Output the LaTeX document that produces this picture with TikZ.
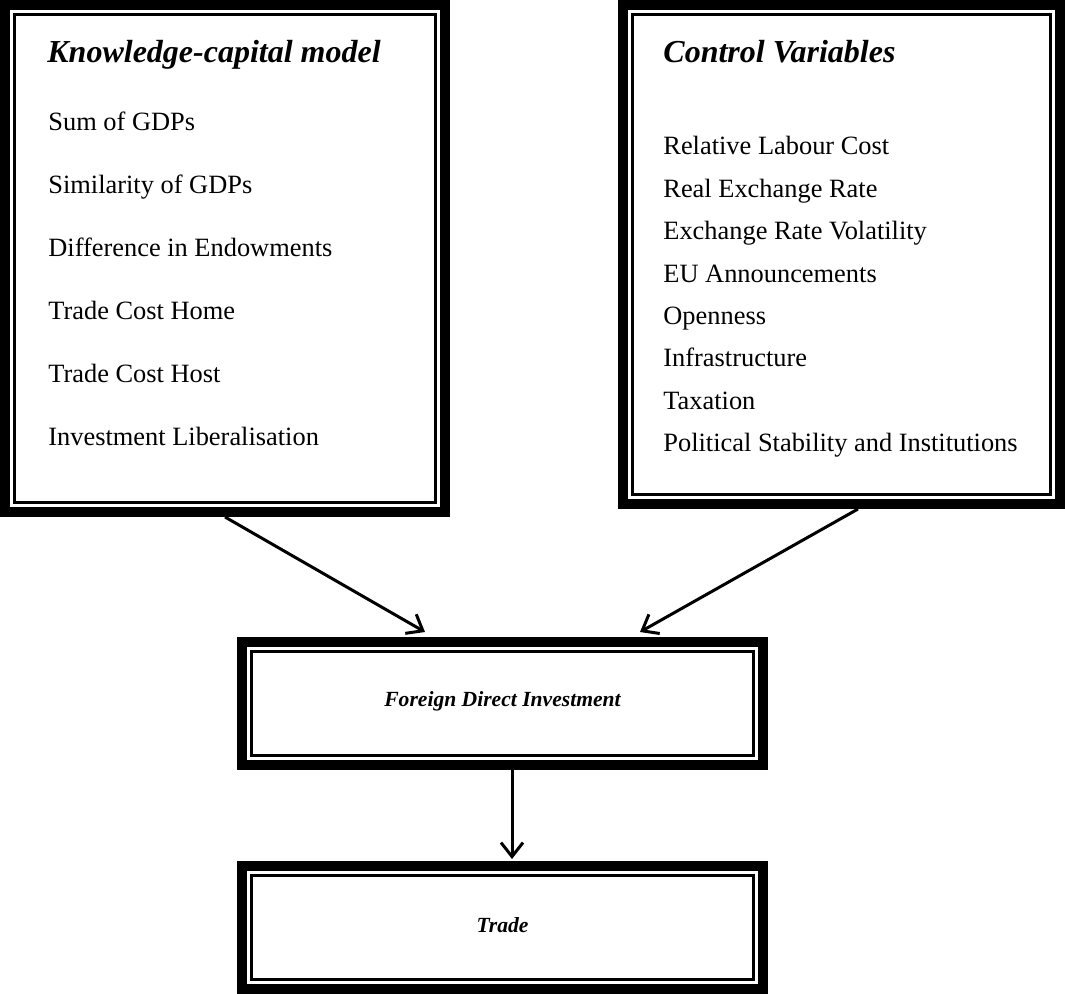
\documentclass[tikz,border=0pt]{standalone}
\usepackage{fontspec}
\setmainfont{Liberation Serif}
\usetikzlibrary{positioning,arrows.meta}

\tikzset{
  framed/.style={draw, line width=1.5pt, inner sep=0pt, outer sep=7.25pt},
  headtext/.style={anchor=base west, inner sep=0pt, font=\fontsize{16}{19}\selectfont\bfseries\itshape},
  itemtext/.style={anchor=base west, inner sep=0pt, font=\fontsize{13.2}{16}\selectfont},
  boxtext/.style={inner sep=0pt, font=\fontsize{10.8}{13}\selectfont\bfseries\itshape},
  link/.style={line width=1.5pt, -{Straight Barb[length=7pt,width=11pt,line width=1.5pt]}},
}

\begin{document}
\begin{tikzpicture}[x=0.5pt,y=-0.5pt]
  \useasboundingbox (0,0) rectangle (1065,994);

  % the four framed boxes
  \node[framed, minimum width=210.5pt, minimum height=244pt] (kcm) at (225,258.5) {};
  \node[framed, minimum width=209pt, minimum height=240pt] (ctrl) at (841.5,254.5) {};
  \node[framed, minimum width=251pt, minimum height=52pt] (fdi) at (502.5,703.5) {};
  \node[framed, minimum width=251pt, minimum height=52pt] (trade) at (502.5,927.5) {};
  \foreach \b in {kcm,ctrl,fdi,trade}
    \draw[line width=5pt] ([shift={(2.5pt,-2.5pt)}]\b.north west) rectangle ([shift={(-2.5pt,2.5pt)}]\b.south east);

  % left list
  \node[headtext] (kcmhead) at (47,63) {Knowledge-capital model};
  \foreach \t [count=\i] in {Sum of GDPs, Similarity of GDPs, Difference in Endowments,
      Trade Cost Home, Trade Cost Host, Investment Liberalisation}
    \node[itemtext] (kcm\i) at (48,{131+(\i-1)*62.8}) {\t};

  % right list
  \node[headtext] (ctrlhead) at (663,63) {Control Variables};
  \foreach \t [count=\i] in {Relative Labour Cost, Real Exchange Rate, Exchange Rate Volatility,
      EU Announcements, Openness, Infrastructure, Taxation, Political Stability and Institutions}
    \node[itemtext] (ctrl\i) at (663,{155+(\i-1)*42.4}) {\t};

  \node[boxtext] (fdilabel) at ([yshift=1pt]fdi.center) {Foreign Direct Investment};
  \node[boxtext] (tradelabel) at ([yshift=1pt]trade.center) {Trade};

  % arrows
  \draw[link] (kcm.south) -- ([xshift=-38.75pt,yshift=2.5pt]fdi.north);
  \draw[link] ([xshift=8.25pt]ctrl.south) -- ([xshift=68.75pt,yshift=2.5pt]fdi.north);
  \draw[link] ([xshift=4.75pt]fdi.south) -- ([xshift=4.75pt,yshift=1pt]trade.north);
\end{tikzpicture}
\end{document}
